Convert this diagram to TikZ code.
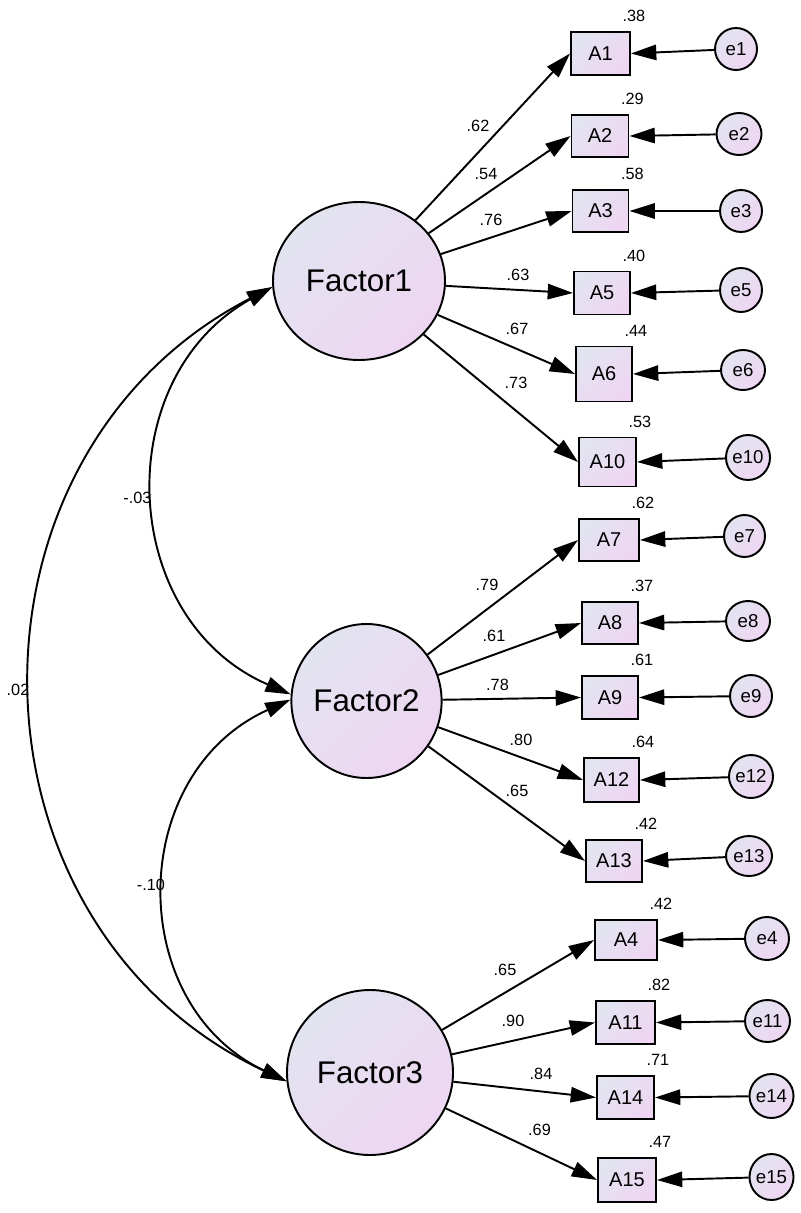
\documentclass[tikz,border=0pt]{standalone}
\usepackage{fontspec}
\setmainfont{Liberation Sans}
\usetikzlibrary{arrows.meta,shapes.geometric}
\definecolor{shA}{RGB}{226,228,240}
\definecolor{shB}{RGB}{238,214,242}
\begin{document}
\begin{tikzpicture}[x=0.75pt,y=0.75pt,
  lw/.style={line width=1.45pt},
  shd/.style={top color=shA,bottom color=shB,shading angle=45},
  sz/.style 2 args={minimum width=#1*0.75pt,minimum height=#2*0.75pt},
  fac/.style={ellipse,draw,lw,shd,inner sep=0pt,font=\fontsize{23.5}{26}\selectfont},
  obs/.style={rectangle,draw,lw,shd,inner sep=0pt,sz={57}{43},font=\fontsize{15}{17}\selectfont},
  err/.style={ellipse,draw,lw,shd,inner sep=0pt,sz={43}{42},font=\fontsize{14}{16}\selectfont},
  num/.style={inner sep=0pt,font=\fontsize{12.2}{14}\selectfont},
  arr/.style={lw,-{Triangle[length=19pt,width=11.5pt]}},
  biarr/.style={lw,{Triangle[length=19pt,width=11.5pt]}-{Triangle[length=19pt,width=11.5pt]}},
]
\useasboundingbox (0,0) rectangle (800,-1213);

% factors
\node[fac,sz={172}{158}] (F1) at (359,-281) {Factor1};
\node[fac,sz={147}{154}] (F2) at (366.5,-701) {Factor2};
\node[fac,sz={166}{165}] (F3) at (370,-1072.5) {Factor3};

% observed
\node[obs,sz={59}{43}] (A1) at (600.5,-53.5) {A1};
\node[obs,sz={57}{42}] (A2) at (600,-136) {A2};
\node[obs,sz={56}{42}] (A3) at (600.5,-211) {A3};
\node[obs,sz={56}{43}] (A5) at (602,-293) {A5};
\node[obs,sz={56}{55}] (A6) at (604,-374) {A6};
\node[obs,sz={57}{49}] (A10) at (607.5,-462) {A10};
\node[obs,sz={60}{42}] (A7) at (609,-540) {A7};
\node[obs,sz={56}{42}] (A8) at (610,-623) {A8};
\node[obs,sz={56}{43}] (A9) at (610,-697.5) {A9};
\node[obs,sz={55}{44}] (A12) at (611.5,-780) {A12};
\node[obs,sz={56}{42}] (A13) at (614,-861) {A13};
\node[obs,sz={62}{40}] (A4) at (626,-940) {A4};
\node[obs,sz={59}{43}] (A11) at (625.5,-1022.5) {A11};
\node[obs,sz={57}{43}] (A14) at (625.5,-1097.5) {A14};
\node[obs,sz={58}{44}] (A15) at (627,-1180) {A15};

% errors
\node[err,sz={42}{42}] (e1) at (736,-49) {e1};
\node[err,sz={45}{42}] (e2) at (739,-134) {e2};
\node[err,sz={42}{42}] (e3) at (741,-211) {e3};
\node[err,sz={42}{44}] (e5) at (741,-290) {e5};
\node[err,sz={44}{40}] (e6) at (743,-370) {e6};
\node[err,sz={42}{45}] (e10) at (748,-457.5) {e10};
\node[err,sz={41}{42}] (e7) at (744.5,-536) {e7};
\node[err,sz={44}{40}] (e8) at (748,-621) {e8};
\node[err,sz={42}{42}] (e9) at (751,-696) {e9};
\node[err,sz={41}{43}] (e12) at (751,-776.5) {e12};
\node[err,sz={46}{40}] (e13) at (749,-856) {e13};
\node[err,sz={44}{43}] (e4) at (767,-938.5) {e4};
\node[err,sz={45}{42}] (e11) at (767.5,-1021) {e11};
\node[err,sz={43}{44}] (e14) at (771.5,-1096) {e14};
\node[err,sz={43}{46}] (e15) at (771.5,-1177) {e15};

% loadings
\foreach \f/\a in {F1/A1,F1/A2,F1/A3,F1/A5,F1/A6,F1/A10,
                   F2/A7,F2/A8,F2/A9,F2/A12,F2/A13,
                   F3/A4,F3/A11,F3/A14,F3/A15}
  \draw[arr] (\f) -- (\a.west);

% error paths
\foreach \e/\a in {e1/A1,e2/A2,e3/A3,e5/A5,e6/A6,e10/A10,
                   e7/A7,e8/A8,e9/A9,e12/A12,e13/A13,
                   e4/A4,e11/A11,e14/A14,e15/A15}
  \draw[arr] (\e) -- (\a.east);

% covariances
\draw[biarr] (F1.184) to[out=207.3,in=154.8,distance=275pt] (F3.186);
\draw[biarr] (F1.184) to[out=209.1,in=156.6,distance=141pt] (F2.175);
\draw[biarr] (F2.179) to[out=204.3,in=154.5,distance=135pt] (F3.186);

% loading labels
\node[num] (l1) at (478,-126) {.62};
\node[num] (l2) at (486,-174) {.54};
\node[num] (l3) at (491,-220) {.76};
\node[num] (l5) at (518,-275) {.63};
\node[num] (l6) at (517,-329) {.67};
\node[num] (l10) at (516,-383) {.73};
\node[num] (l7) at (487,-585) {.79};
\node[num] (l8) at (494,-636) {.61};
\node[num] (l9) at (497.5,-685) {.78};
\node[num] (l12) at (521,-740) {.80};
\node[num] (l13) at (517,-791) {.65};
\node[num] (l4) at (505,-970) {.65};
\node[num] (l11) at (513,-1021) {.90};
\node[num] (l14) at (541,-1074) {.84};
\node[num] (l15) at (539.5,-1130) {.69};

% covariance labels
\node[num] (c12) at (137.5,-498) {-.03};
\node[num] (c13) at (18,-690) {.02};
\node[num] (c23) at (151,-885) {-.10};

% squared multiple correlations
\foreach \a/\v in {A1/.38,A2/.29,A3/.58,A5/.40,A6/.44,A10/.53,
                   A7/.62,A8/.37,A9/.61,A12/.64,A13/.42,
                   A4/.42,A11/.82,A14/.71,A15/.47}
  \node[num] (r\a) at ([shift={(3,15)}]\a.north east) {\v};
\end{tikzpicture}
\end{document}
